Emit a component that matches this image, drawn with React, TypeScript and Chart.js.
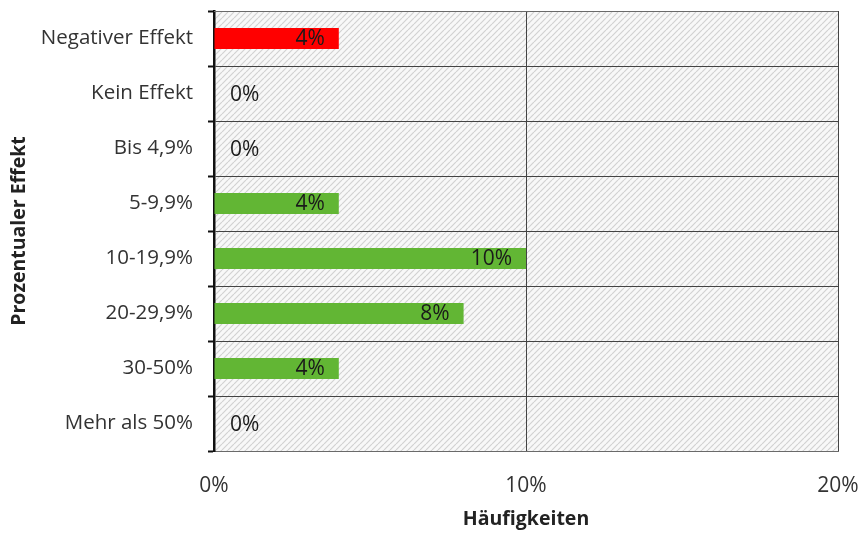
import React, { useEffect, useRef } from "react";
import { Chart, registerables } from "chart.js";

Chart.register(...registerables);

const categories = [
  "Negativer Effekt",
  "Kein Effekt",
  "Bis 4,9%",
  "5-9,9%",
  "10-19,9%",
  "20-29,9%",
  "30-50%",
  "Mehr als 50%",
];
const values = [4, 0, 0, 4, 10, 8, 4, 0];
const barColors = ["#ff0000", "#62b634", "#62b634", "#62b634", "#62b634", "#62b634", "#62b634", "#62b634"];
const xTicks = [0, 10, 20];
const xTitle = "Häufigkeiten";
const yTitle = "Prozentualer Effekt";

const FONT = "'Open Sans', 'Noto Sans', sans-serif";

function makePattern(ctx: CanvasRenderingContext2D) {
  const c = document.createElement("canvas");
  const s = 6;
  c.width = s;
  c.height = s;
  const p = c.getContext("2d")!;
  p.fillStyle = "#f8f8f8";
  p.fillRect(0, 0, s, s);
  p.strokeStyle = "#d2d2d2";
  p.lineWidth = 1.2;
  p.beginPath();
  for (let k = -1; k <= 1; k++) {
    p.moveTo(k * s, s);
    p.lineTo(k * s + s, 0);
  }
  p.stroke();
  return ctx.createPattern(c, "repeat");
}

const bgPlugin = {
  id: "hatchBg",
  beforeDraw(chart: any) {
    const { ctx, chartArea } = chart;
    const pat = makePattern(ctx);
    if (!pat) return;
    ctx.save();
    ctx.fillStyle = pat;
    ctx.fillRect(chartArea.left, chartArea.top, chartArea.right - chartArea.left, chartArea.bottom - chartArea.top);
    ctx.restore();
  },
};

const valueLabelPlugin = {
  id: "valueLabels",
  afterDatasetsDraw(chart: any) {
    const { ctx } = chart;
    const meta = chart.getDatasetMeta(0);
    const xScale = chart.scales.x;
    ctx.save();
    ctx.font = `21px ${FONT}`;
    ctx.fillStyle = "#1a1a1a";
    ctx.textBaseline = "middle";
    meta.data.forEach((bar: any, i: number) => {
      const v = values[i];
      const end = xScale.getPixelForValue(v);
      const text = `${v}%`;
      if (v > 0) {
        ctx.textAlign = "right";
        ctx.fillText(text, end - 14, bar.y + 1);
      } else {
        ctx.textAlign = "left";
        ctx.fillText(text, end + 16, bar.y + 2);
      }
    });
    ctx.restore();
  },
};

const frameDrawPlugin = {
  id: "frameTop",
  afterDraw(chart: any) {
    const { ctx, chartArea } = chart;
    ctx.save();
    ctx.strokeStyle = "#6a6a6a";
    ctx.lineWidth = 1;
    ctx.beginPath();
    ctx.moveTo(chartArea.left, chartArea.top + 0.5);
    ctx.lineTo(chartArea.right, chartArea.top + 0.5);
    ctx.stroke();
    ctx.restore();
  },
};

export default function App() {
  const ref = useRef<HTMLCanvasElement | null>(null);
  useEffect(() => {
    document.body.style.margin = "0";
    if (!ref.current) return;
    Chart.defaults.font.family = FONT;
    const chart = new Chart(ref.current, {
      type: "bar",
      data: {
        labels: categories,
        datasets: [
          {
            data: values,
            backgroundColor: barColors,
            borderWidth: 0,
            barPercentage: 0.38,
            categoryPercentage: 1,
          },
        ],
      },
      options: {
        indexAxis: "y",
        animation: false,
        responsive: false,
        maintainAspectRatio: false,
        layout: { padding: { top: 11, right: 25, left: 0, bottom: 0 } },
        plugins: {
          legend: { display: false },
          tooltip: { enabled: false },
        },
        scales: {
          x: {
            min: 0,
            max: 20,
            afterFit(scale: any) {
              scale.height = 83;
              scale.paddingLeft = 0;
              scale.paddingRight = 0;
            },
            afterBuildTicks(scale: any) {
              scale.ticks = xTicks.map((v) => ({ value: v }));
            },
            ticks: {
              callback: (v: any) => `${v}%`,
              color: "#333",
              font: { size: 21 },
              padding: 22,
              maxRotation: 0,
            },
            grid: {
              color: "#444",
              lineWidth: 1,
              drawTicks: false,
            },
            border: { display: true, color: "#6a6a6a", width: 1 },
            title: {
              display: true,
              text: xTitle,
              color: "#222",
              font: { size: 19.5, weight: "bold" },
              padding: { top: 0, bottom: 2.5 },
            },
          },
          y: {
            afterFit(scale: any) {
              scale.width = 214;
              scale.paddingTop = 0;
              scale.paddingBottom = 0;
            },
            ticks: {
              color: "#333",
              font: { size: 20.5 },
              padding: 15,
            },
            grid: {
              color: "#444",
              lineWidth: 1,
              drawTicks: true,
              tickLength: 6,
              tickColor: "#111",
              tickWidth: 2,
              offset: true,
            },
            border: { display: true, color: "#111", width: 2.5 },
            title: {
              display: true,
              text: yTitle,
              color: "#222",
              font: { size: 19.5, weight: "bold" },
              padding: { top: 8, bottom: 0 },
            },
          },
        },
      },
      plugins: [bgPlugin, valueLabelPlugin, frameDrawPlugin],
    });
    return () => chart.destroy();
  }, []);
  return (
    <div style={{ position: "absolute", left: 0, top: 0, width: 863, height: 534 }}>
      <canvas ref={ref} width={863} height={534} />
    </div>
  );
}
